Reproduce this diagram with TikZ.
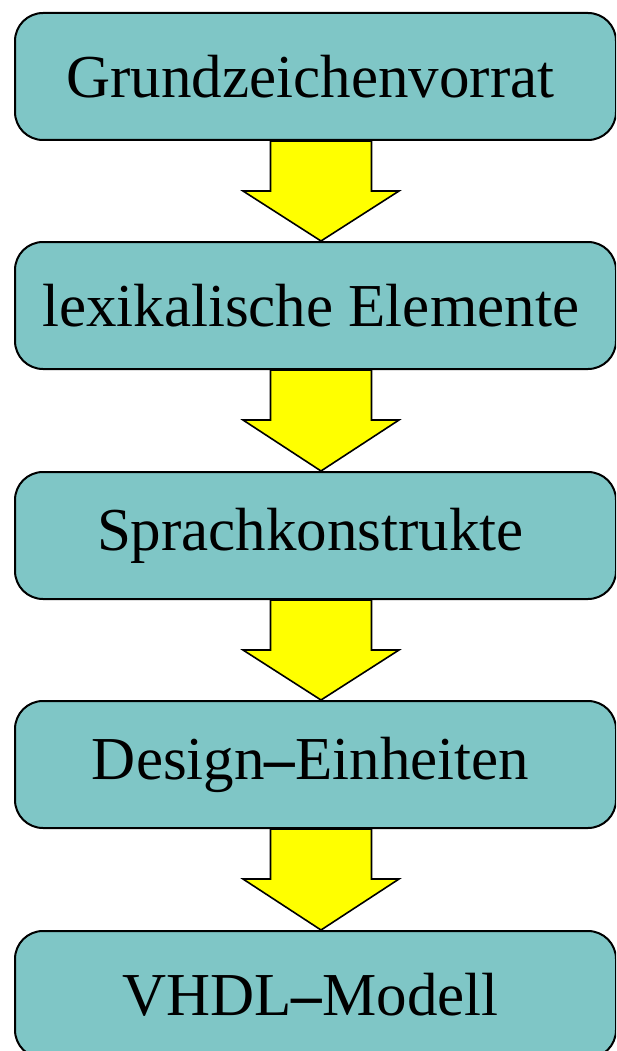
\documentclass[tikz,border=0pt]{standalone}
\usepackage{fontspec}
\setmainfont{Liberation Serif}
\usetikzlibrary{calc}
\definecolor{boxteal}{RGB}{127,198,198}
\definecolor{arrowyellow}{RGB}{255,255,0}
\newcommand{\heavydash}{{\bfseries –}}
\tikzset{
  stagebox/.style={draw=black, line width=2pt, fill=boxteal, rounded corners=28pt,
    minimum width=601pt, minimum height=127pt, inner sep=0pt, anchor=north west,
    font=\fontsize{61}{70}\selectfont, text=black},
  flowarrow/.style={draw=black, line width=1.6pt, fill=arrowyellow, line join=miter}
}
\newcommand{\stagearrow}[2]{%
  \path[flowarrow] let \p1=(#1.south), \p2=(#2.north) in
    (\x1+5.5pt-50.5pt,\y1) -- (\x1+5.5pt+50.5pt,\y1) -- (\x1+5.5pt+50.5pt,\y1-50pt)
    -- (\x1+5.5pt+78pt,\y1-50pt) -- (\x1+5.5pt,\y2) -- (\x1+5.5pt-78pt,\y1-50pt)
    -- (\x1+5.5pt-50.5pt,\y1-50pt) -- cycle;}
\begin{document}
\begin{tikzpicture}[x=1pt,y=1pt]
\useasboundingbox (0,0) rectangle (616,-1051);
\clip (0,0) rectangle (616,-1051);
\node[stagebox] (b1) at (14,-12) {\kern-10pt Grundzeichenvorrat};
\node[stagebox] (b2) at (14,-241) {\kern-10pt lexikalische Elemente};
\node[stagebox] (b3) at (14,-471) {\kern-10pt Sprachkonstrukte};
\node[stagebox] (b4) at (14,-700) {\kern-10pt Design\heavydash Einheiten};
\node[stagebox] (b5) at (14,-930) {\kern-10pt VHDL\heavydash Modell};
\stagearrow{b1}{b2}
\stagearrow{b2}{b3}
\stagearrow{b3}{b4}
\stagearrow{b4}{b5}
\end{tikzpicture}
\end{document}
